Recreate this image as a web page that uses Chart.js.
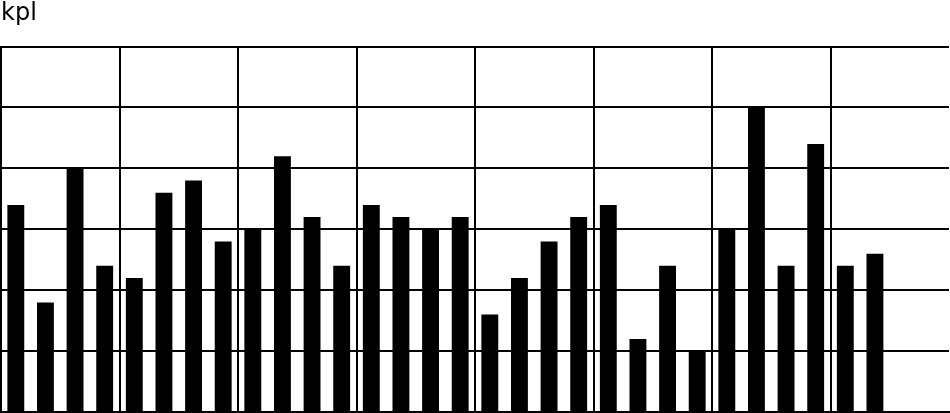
<!DOCTYPE html>
<html>
<head>
<meta charset="utf-8">
<script src="https://cdn.jsdelivr.net/npm/chart.js@4"></script>
<style>
  html, body { margin: 0; padding: 0; background: #fff; }
  #wrap { width: 950px; height: 413px; position: relative; }
</style>
</head>
<body>
<div id="wrap"><canvas id="c" width="950" height="413"></canvas></div>
<script>
const unitLabel = 'kpl';
const categories = ['1','2','3','4','5','6','7','8','9','10','11','12','13','14','15','16',
                    '17','18','19','20','21','22','23','24','25','26','27','28','29','30','31','32'];
const values = [3.4, 1.8, 4.0, 2.4, 2.2, 3.6, 3.8, 2.8, 3.0, 4.2, 3.2, 2.4, 3.4, 3.2, 3.0, 3.2,
                1.6, 2.2, 2.8, 3.2, 3.4, 1.2, 2.4, 1.0, 3.0, 5.0, 2.4, 4.4, 2.4, 2.6, null, null];
const yMin = 0, yMax = 6, yStep = 1;
const groupSize = 4;

new Chart(document.getElementById('c'), {
  type: 'bar',
  data: {
    labels: categories,
    datasets: [{
      data: values,
      backgroundColor: '#000',
      borderWidth: 0,
      barPercentage: 0.57,
      categoryPercentage: 1.0
    }]
  },
  options: {
    responsive: false,
    animation: false,
    devicePixelRatio: 1,
    layout: { padding: { left: 1, right: 1, top: 0, bottom: 1 } },
    plugins: {
      legend: { display: false },
      tooltip: { enabled: false },
      title: {
        display: true,
        text: unitLabel,
        align: 'start',
        color: '#000',
        font: { family: '"DejaVu Sans", sans-serif', size: 24, weight: 'normal', lineHeight: 1.15 },
        padding: { top: 0, bottom: 19 }
      }
    },
    scales: {
      x: {
        type: 'category',
        ticks: { display: false },
        grid: {
          offset: true,
          drawTicks: false,
          lineWidth: 2,
          color: ctx => (ctx.index % groupSize === 0 ? '#000' : 'rgba(0,0,0,0)')
        },
        border: { display: true, color: '#000', width: 2 }
      },
      y: {
        min: yMin,
        max: yMax,
        ticks: { display: false, stepSize: yStep },
        grid: { drawTicks: false, lineWidth: 2, color: '#000' },
        border: { display: true, color: '#000', width: 2 }
      }
    }
  }
});
</script>
</body>
</html>
